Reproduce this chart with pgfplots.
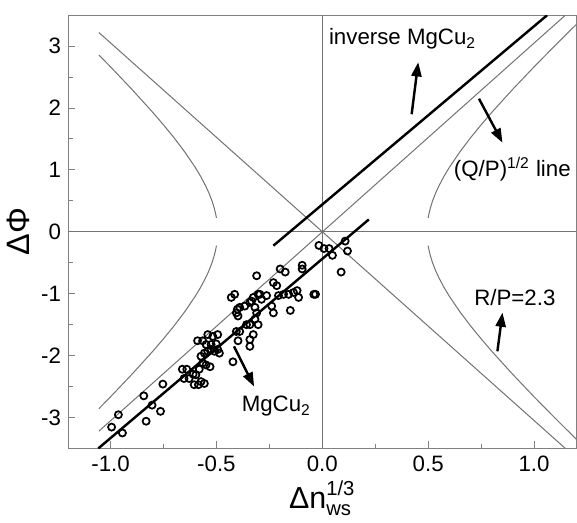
\documentclass[border=0pt]{standalone}
\usepackage{fontspec}
\setmainfont{Liberation Sans}
\usepackage{pgfplots}
\pgfplotsset{compat=1.18}
\usetikzlibrary{arrows.meta}

\definecolor{thinline}{gray}{0.45}
\definecolor{frameline}{gray}{0.5}

% measured points, Delta n_ws^(1/3) vs Delta Phi
\pgfplotstableread{
x y
-0.995 -3.155
-0.963 -2.955
-0.944 -3.25
-0.843 -2.65
-0.832 -3.06
-0.804 -2.80
-0.764 -2.90
-0.753 -2.46
-0.661 -2.22
-0.640 -2.22
-0.653 -2.37
-0.629 -2.37
-0.605 -2.47
-0.597 -2.31
-0.581 -2.22
-0.573 -2.42
-0.557 -2.45
-0.585 -2.47
-0.565 -2.12
-0.549 -2.15
-0.530 -2.18
-0.573 -2.01
-0.557 -1.96
-0.541 -1.93
-0.525 -1.90
-0.509 -1.93
-0.494 -1.90
-0.486 -1.96
-0.549 -1.82
-0.525 -1.82
-0.501 -1.81
-0.589 -1.76
-0.565 -1.76
-0.541 -1.66
-0.517 -1.69
-0.494 -1.66
-0.610 -2.30
-0.422 -2.10
-0.430 -1.06
-0.414 -1.01
-0.401 -1.25
-0.390 -1.22
-0.406 -1.31
-0.398 -1.36
-0.406 -1.61
-0.390 -1.61
-0.398 -1.76
-0.366 -1.20
-0.342 -1.14
-0.358 -1.50
-0.342 -1.50
-0.318 -1.22
-0.310 -1.31
-0.318 -1.41
-0.303 -1.50
-0.326 -1.66
-0.342 -1.74
-0.342 -1.85
-0.334 -1.12
-0.326 -1.06
-0.303 -1.01
-0.310 -0.71
-0.295 -1.01
-0.287 -1.09
-0.263 -1.03
-0.231 -0.82
-0.215 -0.87
-0.239 -1.20
-0.231 -1.31
-0.207 -1.03
-0.183 -1.01
-0.159 -1.01
-0.136 -0.98
-0.119 -0.95
-0.112 -1.06
-0.151 -1.27
-0.199 -0.60
-0.175 -0.65
-0.095 -0.54
-0.095 -0.60
-0.040 -1.01
-0.032 -1.01
-0.016 -0.22
0.008 -0.27
0.032 -0.27
0.048 -0.38
0.108 -0.15
0.119 -0.31
0.089 -0.65
}\pointdata

\begin{document}
\begin{tikzpicture}
\begin{axis}[
    scale only axis,
    width=251pt,
    height=214pt,
    xmin=-1.2, xmax=1.2,
    ymin=-3.5, ymax=3.5,
    xtick={-1,-0.5,0,0.5,1},
    xticklabels={-1.0,-0.5,0.0,0.5,1.0},
    ytick={-3,-2,-1,0,1,2,3},
    yticklabels={-3,-2,-1,0,1,2,3},
    minor x tick num=1,
    minor y tick num=1,
    xtick pos=bottom,
    ytick pos=left,
    tick align=inside,
    major tick length=3.5pt,
    minor tick length=2.2pt,
    tick style={frameline, line width=0.5pt},
    axis line style={frameline, line width=0.6pt},
    tick label style={font=\fontsize{11}{13}\selectfont},
    xlabel={\fontsize{15}{18}\selectfont $\mbox{Δn}^{\mbox{\fontsize{10}{12}\selectfont 1/3}}_{\mbox{\fontsize{10}{12}\selectfont ws}}$},
    ylabel={\fontsize{16}{19}\selectfont ΔΦ},
    xlabel style={yshift=2pt},
    ylabel style={yshift=-1pt},
    clip=true,
]
% zero lines
\addplot[thinline, line width=0.5pt] coordinates {(-1.2,0) (1.2,0)};
\addplot[thinline, line width=0.5pt] coordinates {(0,-3.5) (0,3.5)};
% asymptotes
\addplot[thinline, line width=0.5pt] coordinates {(-1.055,3.22) (1.148,-3.5)};
\addplot[thinline, line width=0.5pt] coordinates {(-1.055,-3.22) (1.148,3.5)};
% hyperbola branches, R/P = 2.3
\addplot[thinline, line width=0.5pt] coordinates {
(-1.055,2.857) (-1.0,2.665) (-0.9,2.305) (-0.8,1.928) (-0.75,1.728) (-0.7,1.519)
(-0.65,1.293) (-0.6,1.041) (-0.575,0.899) (-0.55,0.737) (-0.535,0.625)
(-0.52,0.492) (-0.51,0.381) (-0.503,0.280) (-0.5,0.224)};
\addplot[thinline, line width=0.5pt] coordinates {
(-1.055,-2.857) (-1.0,-2.665) (-0.9,-2.305) (-0.8,-1.928) (-0.75,-1.728) (-0.7,-1.519)
(-0.65,-1.293) (-0.6,-1.041) (-0.575,-0.899) (-0.55,-0.737) (-0.535,-0.625)
(-0.52,-0.492) (-0.51,-0.381) (-0.503,-0.280) (-0.5,-0.224)};
\addplot[thinline, line width=0.5pt] coordinates {
(0.5,0.224) (0.503,0.280) (0.51,0.381) (0.52,0.492) (0.535,0.625) (0.55,0.737)
(0.575,0.899) (0.6,1.041) (0.65,1.293) (0.7,1.519) (0.75,1.728) (0.8,1.928)
(0.9,2.305) (1.0,2.665) (1.1,3.012) (1.2,3.352)};
\addplot[thinline, line width=0.5pt] coordinates {
(0.5,-0.224) (0.503,-0.280) (0.51,-0.381) (0.52,-0.492) (0.535,-0.625) (0.55,-0.737)
(0.575,-0.899) (0.6,-1.041) (0.65,-1.293) (0.7,-1.519) (0.75,-1.728) (0.8,-1.928)
(0.9,-2.305) (1.0,-2.665) (1.1,-3.012) (1.2,-3.352)};
% fitted lines
\addplot[black, line width=1.2pt] coordinates {(-0.231,-0.224) (1.062,3.5)};
\addplot[black, line width=1.2pt] coordinates {(-1.058,-3.5) (0.22,0.20)};
% data
\addplot[only marks, mark=o, mark size=1.75pt, mark options={line width=0.85pt, black}]
    table[x=x, y=y] {\pointdata};
% annotations
\draw[black, line width=1.2pt, -{Triangle[length=7pt,width=5pt]}]
    (axis cs:0.422,1.90) -- (axis cs:0.453,2.74);
\draw[black, line width=1.2pt, -{Triangle[length=7pt,width=5pt]}]
    (axis cs:0.74,2.15) -- (axis cs:0.851,1.44);
\draw[black, line width=1.2pt, -{Triangle[length=7pt,width=5pt]}]
    (axis cs:0.827,-1.93) -- (axis cs:0.851,-1.305);
\draw[black, line width=1.2pt, -{Triangle[length=7pt,width=5pt]}]
    (axis cs:-0.417,-1.85) -- (axis cs:-0.322,-2.50);
\node[anchor=base west, inner sep=0pt, font=\fontsize{11}{13}\selectfont]
    at (axis cs:0.03,3.02) {inverse MgCu\textsubscript{2}};
\node[anchor=base west, inner sep=0pt, font=\fontsize{11}{13}\selectfont]
    at (axis cs:0.62,0.896) {(Q/P)\textsuperscript{1/2} line};
\node[anchor=base west, inner sep=0pt, font=\fontsize{11}{13}\selectfont]
    at (axis cs:0.716,-1.186) {R/P=2.3};
\node[anchor=base west, inner sep=0pt, font=\fontsize{11}{13}\selectfont]
    at (axis cs:-0.382,-2.91) {MgCu\textsubscript{2}};
\end{axis}
\path (current axis.north) ++(0,7.5pt);
\end{tikzpicture}
\end{document}
